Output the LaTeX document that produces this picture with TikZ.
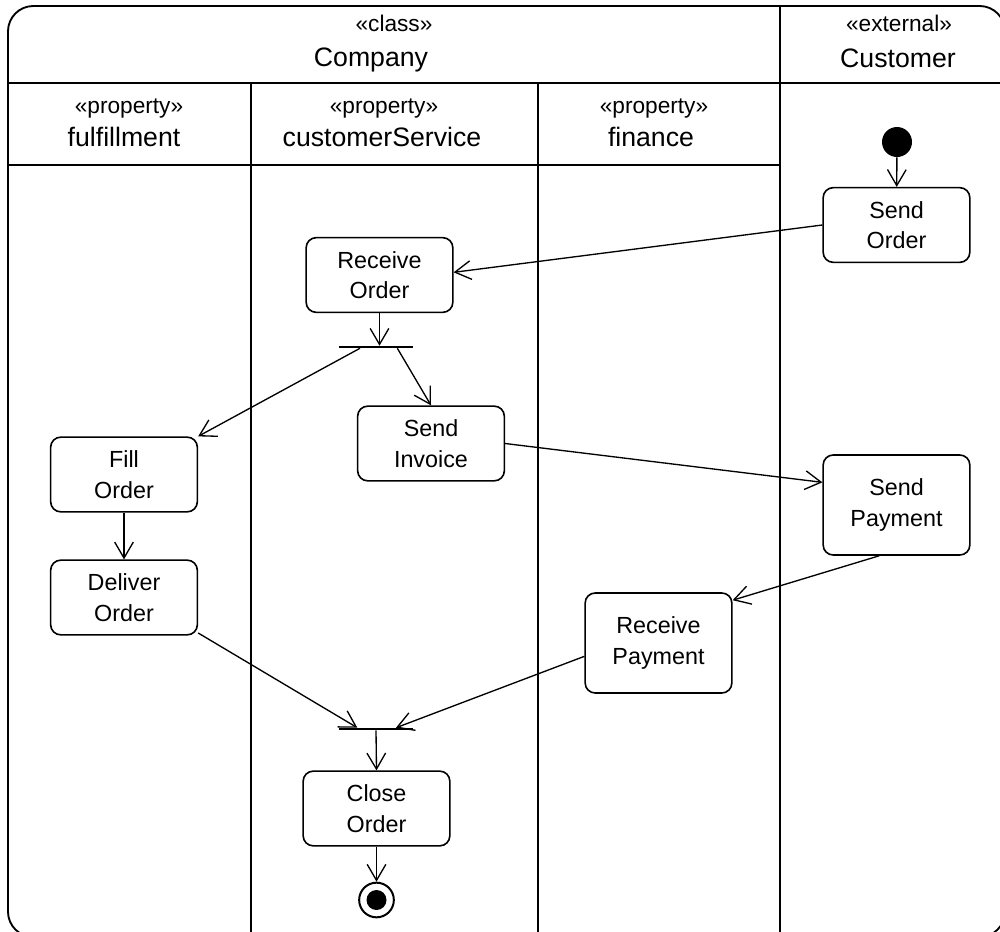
\documentclass[tikz,border=0pt]{standalone}
\usepackage{fontspec}
\setmainfont{Liberation Sans}
\usetikzlibrary{arrows.meta}
\begin{document}
\begin{tikzpicture}[x=0.75pt,y=-0.75pt,
  act/.style={draw, line width=1.2pt, rounded corners=7.5pt, minimum width=110pt,
    minimum height=56pt, align=center, inner sep=0pt,
    font=\fontsize{17.5}{23}\selectfont},
  tallact/.style={act, minimum height=75pt},
  flow/.style={line width=1pt, -{Straight Barb[length=12pt,width=14pt,line width=1pt]}},
  syncbar/.style={fill, inner sep=0pt, minimum width=56pt, minimum height=1.5pt},
  lane/.style={line width=1.4pt},
  stereo/.style={font=\fontsize{17}{20}\selectfont, inner sep=0pt, anchor=base},
  lname/.style={font=\fontsize{20}{24}\selectfont, inner sep=0pt, anchor=base}]
\useasboundingbox (0,0) rectangle (1000,932);

% frame and partitions
\begin{scope}
  \clip (0,0) rectangle (1000,932);
  \draw[lane, rounded corners=19pt] (8,6) rectangle (1005,937);
  \draw[lane] (8,83) -- (1005,83);
  \draw[lane] (780,6) -- (780,937);
  \draw[lane] (8,165) -- (780,165);
  \draw[lane] (251,83) -- (251,937);
  \draw[lane] (538,83) -- (538,937);
\end{scope}

% partition headers
\node[stereo] (hcls) at (394,31) {«class»};
\node[lname]  (hcom) at (371,66) {Company};
\node[stereo] (hext) at (899,31) {«external»};
\node[lname]  (hcus) at (898,67) {Customer};
\node[stereo] (hp1) at (129,113) {«property»};
\node[lname]  (hn1) at (124,146) {fulfillment};
\node[stereo] (hp2) at (384,113) {«property»};
\node[lname]  (hn2) at (382,146) {customerService};
\node[stereo] (hp3) at (654,113) {«property»};
\node[lname]  (hn3) at (651,146) {finance};

% control nodes
\node[circle, fill, inner sep=0pt, minimum size=22.5pt] (init) at (897,142) {};
\node[syncbar] (fork) at (376,347) {};
\node[syncbar] (join) at (376,729) {};
\node[circle, draw, line width=1.5pt, inner sep=0pt, minimum size=26pt] (final) at (376.5,900) {};
\node[circle, fill, inner sep=0pt, minimum size=15pt] (finaldot) at (376.5,900) {};

% actions
\node[act] (sendorder) at (896.5,225) {Send\\Order};
\node[act] (recvorder) at (379.5,275) {Receive\\Order};
\node[act] (sendinv) at (431,443.5) {Send\\Invoice};
\node[act] (fill) at (124,474.5) {Fill\\Order};
\node[tallact] (sendpay) at (896.5,505) {Send\\Payment};
\node[act] (deliver) at (124,597.5) {Deliver\\Order};
\node[tallact] (recvpay) at (658.5,643) {Receive\\Payment};
\node[act] (close) at (376.5,808.5) {Close\\Order};

% flows
\draw[flow] (init) -- (sendorder);
\draw[flow] (sendorder.west) -- ([yshift=2pt]recvorder.east);
\draw[flow] (recvorder) -- (recvorder |- fork.north);
\draw[flow] ([xshift=-12pt]fork.south) -- (fill.north east);
\draw[flow] ([xshift=16pt]fork.south) -- (sendinv.north);
\draw[flow] (sendinv.east) -- ([yshift=17pt]sendpay.west);
\draw[flow] ([xshift=-13pt]sendpay.south) -- ([yshift=-6pt]recvpay.north east);
\draw[flow] (fill) -- (deliver);
\draw[flow] ([yshift=2pt]deliver.south east) -- ([xshift=-14pt]join.north);
\draw[flow] ([yshift=-10pt]recvpay.west) -- ([xshift=15pt]join.north);
\draw[flow] (join.south) -- (close.north);
\draw[flow] (close.south) -- (final.north);
\end{tikzpicture}
\end{document}
